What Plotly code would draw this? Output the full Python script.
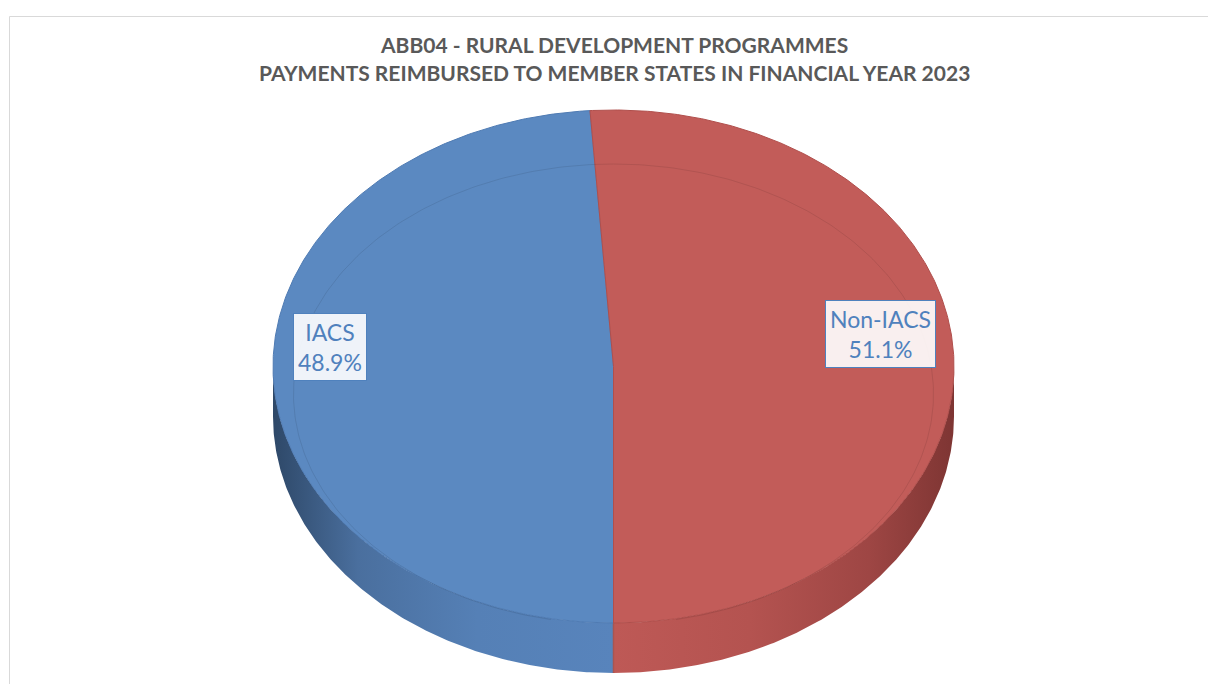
import numpy as np
import plotly.graph_objects as go

# ---- data ----
categories = ["IACS", "Non-IACS"]
shares = [48.9, 51.1]
title_lines = ["ABB04 - RURAL DEVELOPMENT PROGRAMMES",
               "PAYMENTS REIMBURSED TO MEMBER STATES IN FINANCIAL YEAR 2023"]

# ---- style / geometry ----
W, H = 1208, 684
CX, CY, RX, RY, DEPTH = 613.5, 366.5, 340.5, 256.5, 50
FIRST_ANGLE = 180.0  # degrees clockwise from 12 o'clock
top_colors = ["#5B89C1", "#C25C59"]
edge_colors = ["#4F7BB3", "#B04F4C"]
side_scales = [
    [[0, "#2E4868"], [0.25, "#4A6F9E"], [0.6, "#5580B6"], [1, "#5884BC"]],
    [[0, "#BE5956"], [0.4, "#B45350"], [0.75, "#9E4644"], [1, "#7E3533"]],
]
label_factor = 0.84
label_dx = [2, -19]
label_dy = [-27, -25]
font_family = "Lato, 'Open Sans', sans-serif"

def pt(theta_deg, dy=0.0, r=1.0):
    t = np.radians(theta_deg)
    return CX + r * RX * np.sin(t), CY - r * RY * np.cos(t) + dy

fig = go.Figure()

total = sum(shares)
starts, ends = [], []
a = FIRST_ANGLE
for v in shares:
    starts.append(a)
    a += v / total * 360.0
    ends.append(a)

# side walls (visible for angles in [90, 270] mod 360)
for i in range(len(shares)):
    s, e = starts[i], ends[i]
    for k in (-360, 0, 360):
        lo, hi = max(s + k, 90), min(e + k, 270)
        if hi > lo:
            th = np.linspace(lo, hi, 200)
            xs_top, ys_top = pt(th)
            xs_bot, ys_bot = pt(th[::-1], dy=DEPTH)
            xs = np.concatenate([xs_top, xs_bot, xs_top[:1]])
            ys = np.concatenate([ys_top, ys_bot, ys_top[:1]])
            fig.add_trace(go.Scatter(
                x=xs, y=ys, mode="lines", fill="toself",
                line=dict(color="rgba(0,0,0,0)", width=0),
                fillgradient=dict(type="horizontal",
                                  colorscale=side_scales[i],
                                  start=float(xs.min()),
                                  stop=float(xs.max())),
                hoverinfo="skip", showlegend=False))

# vertical seam at 6 o'clock between side walls
for i in range(len(shares)):
    for k in (-360, 0, 360):
        b = starts[i] + k
        if 90 < b < 270:
            x0, y0 = pt(b)
            fig.add_trace(go.Scatter(x=[x0, x0], y=[y0, y0 + DEPTH], mode="lines",
                                     line=dict(color="#A85552", width=1.5),
                                     hoverinfo="skip", showlegend=False))

# top faces
for i in range(len(shares)):
    th = np.linspace(starts[i], ends[i], 400)
    xs, ys = pt(th)
    xs = np.concatenate([[CX], xs, [CX]])
    ys = np.concatenate([[CY], ys, [CY]])
    fig.add_trace(go.Scatter(
        x=xs, y=ys, mode="lines", fill="toself",
        fillcolor=top_colors[i],
        line=dict(color=edge_colors[i], width=1),
        hoverinfo="skip", showlegend=False))

# faint bevel line on top face
th = np.radians(np.linspace(0, 360, 400))
bx = CX + 320 * np.sin(th)
by = 394 - 230 * np.cos(th)
keep = by < CY + RY - 3
bx = np.where(keep, bx, np.nan)
fig.add_trace(go.Scatter(x=bx, y=by, mode="lines",
                         line=dict(color="rgba(0,0,0,0.09)", width=1),
                         hoverinfo="skip", showlegend=False))

# labels
for i, cat in enumerate(categories):
    mid = (starts[i] + ends[i]) / 2
    lx, ly = pt(mid, r=label_factor)
    pct = shares[i] / total * 100
    fig.add_annotation(x=lx + label_dx[i], y=ly + label_dy[i], xref="x", yref="y",
                       text=f"{cat}<br>{pct:.1f}%", showarrow=False,
                       font=dict(family=font_family, size=23, color="#4F81BD"),
                       bgcolor="rgba(255,255,255,0.9)", bordercolor="#4F81BD",
                       borderwidth=1, borderpad=4, align="center")

# title
for j, (txt, yy) in enumerate(zip(title_lines, [44, 72])):
    fig.add_annotation(x=614, y=yy, xref="x", yref="y", text=f"<b>{txt}</b>",
                       showarrow=False,
                       font=dict(family=font_family, size=21, color="#595959"))

# chart border
fig.add_shape(type="rect", x0=9.5, y0=16.5, x1=W + 20, y1=H + 20,
              line=dict(color="#D9D9D9", width=1), xref="x", yref="y", layer="below")

fig.update_layout(
    width=W, height=H, margin=dict(l=0, r=0, t=0, b=0),
    paper_bgcolor="white", plot_bgcolor="white",
    xaxis=dict(range=[0, W], visible=False, fixedrange=True),
    yaxis=dict(range=[H, 0], visible=False, fixedrange=True),
    showlegend=False,
)

fig.write_html("out.html")
